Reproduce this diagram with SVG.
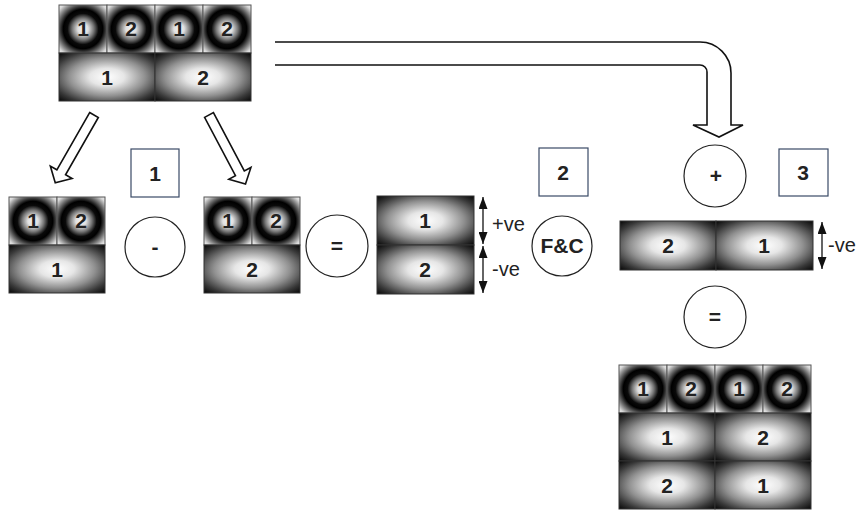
<svg xmlns="http://www.w3.org/2000/svg" xmlns:xlink="http://www.w3.org/1999/xlink" width="858" height="510" viewBox="0 0 858 510">
<style>
.num{font-family:"Liberation Sans",Arial,sans-serif;font-weight:bold;font-size:21px;fill:#222;text-anchor:middle}
.lbl{font-family:"Liberation Sans",Arial,sans-serif;font-size:20px;fill:#222}
.ring{fill:url(#ringG);stroke:#555;stroke-width:1}
.glow{fill:url(#glowG);stroke:#333;stroke-width:1}
.op{fill:#fff;stroke:#222;stroke-width:1.2}
.box{fill:#fff;stroke:#3a4a66;stroke-width:1.2}
.barrow{fill:#fff;stroke:#111;stroke-width:1.6;stroke-linejoin:miter}
.dim{stroke:#111;stroke-width:1.3;fill:none;marker-start:url(#tri);marker-end:url(#tri)}
</style>
<defs>
<radialGradient id="ringG" cx="0.5" cy="0.5" r="0.72">
<stop offset="0" stop-color="#f4f4f4"/>
<stop offset="0.15" stop-color="#e0e0e0"/>
<stop offset="0.31" stop-color="#777"/>
<stop offset="0.45" stop-color="#0a0a0a"/>
<stop offset="0.57" stop-color="#000"/>
<stop offset="0.72" stop-color="#666"/>
<stop offset="0.88" stop-color="#d6d6d6"/>
<stop offset="1" stop-color="#fafafa"/>
</radialGradient>
<radialGradient id="glowG" cx="0.5" cy="0.5" r="0.72">
<stop offset="0" stop-color="#fff"/>
<stop offset="0.25" stop-color="#e6e6e6"/>
<stop offset="0.55" stop-color="#909090"/>
<stop offset="0.8" stop-color="#383838"/>
<stop offset="1" stop-color="#000"/>
</radialGradient>
<marker id="tri" viewBox="0 0 10 10" refX="10" refY="5" markerWidth="12" markerHeight="9" markerUnits="userSpaceOnUse" orient="auto-start-reverse" preserveAspectRatio="none">
<path d="M0,0 L10,5 L0,10 Z" fill="#111"/>
</marker>
<path id="diagArrow" d="M-5,0 L5,0 L5,66 L12.5,66 L0,78 L-12.5,66 L-5,66 Z"/>
</defs>

<g id="block-top">
<rect class="ring" x="59" y="5" width="48" height="48"/>
<rect class="ring" x="107" y="5" width="48" height="48"/>
<rect class="ring" x="155" y="5" width="48" height="48"/>
<rect class="ring" x="203" y="5" width="48" height="48"/>
<rect class="glow" x="59" y="53" width="96" height="48"/>
<rect class="glow" x="155" y="53" width="96" height="48"/>
<text class="num" x="83" y="36">1</text>
<text class="num" x="131" y="36">2</text>
<text class="num" x="179" y="36">1</text>
<text class="num" x="227" y="36">2</text>
<text class="num" x="107" y="85">1</text>
<text class="num" x="203" y="85">2</text>
</g>

<g id="block-a">
<rect class="ring" x="9" y="197" width="48" height="48"/>
<rect class="ring" x="57" y="197" width="48" height="48"/>
<rect class="glow" x="9" y="245" width="96" height="48"/>
<text class="num" x="33" y="228">1</text>
<text class="num" x="81" y="228">2</text>
<text class="num" x="57" y="277">1</text>
</g>

<g id="block-b">
<rect class="ring" x="204" y="197" width="48" height="48"/>
<rect class="ring" x="252" y="197" width="48" height="48"/>
<rect class="glow" x="204" y="245" width="96" height="48"/>
<text class="num" x="228" y="228">1</text>
<text class="num" x="276" y="228">2</text>
<text class="num" x="252" y="277">2</text>
</g>

<g id="block-diff">
<rect class="glow" x="377" y="196" width="97" height="49"/>
<rect class="glow" x="377" y="245" width="97" height="49"/>
<text class="num" x="425" y="228">1</text>
<text class="num" x="425" y="277">2</text>
</g>

<g id="block-sum">
<rect class="glow" x="620" y="221" width="96" height="49"/>
<rect class="glow" x="716" y="221" width="97" height="49"/>
<text class="num" x="668" y="253">2</text>
<text class="num" x="764" y="253">1</text>
</g>

<g id="block-result">
<rect class="ring" x="619" y="365" width="48" height="48"/>
<rect class="ring" x="667" y="365" width="48" height="48"/>
<rect class="ring" x="715" y="365" width="48" height="48"/>
<rect class="ring" x="763" y="365" width="48" height="48"/>
<rect class="glow" x="619" y="413" width="96" height="48"/>
<rect class="glow" x="715" y="413" width="96" height="48"/>
<rect class="glow" x="619" y="461" width="96" height="48"/>
<rect class="glow" x="715" y="461" width="96" height="48"/>
<text class="num" x="643" y="396">1</text>
<text class="num" x="691" y="396">2</text>
<text class="num" x="739" y="396">1</text>
<text class="num" x="787" y="396">2</text>
<text class="num" x="667" y="445">1</text>
<text class="num" x="763" y="445">2</text>
<text class="num" x="667" y="493">2</text>
<text class="num" x="763" y="493">1</text>
</g>

<g id="op-minus"><circle class="op" cx="155" cy="247" r="30"/><text class="num" x="155" y="254">-</text></g>
<g id="op-equals1"><circle class="op" cx="337" cy="246" r="31"/><text class="num" x="337" y="253">=</text></g>
<g id="op-fc"><circle class="op" cx="562" cy="246" r="30"/><text class="num" x="562" y="253">F&amp;C</text></g>
<g id="op-plus"><circle class="op" cx="715" cy="176" r="31"/><text class="num" x="716" y="183">+</text></g>
<g id="op-equals2"><circle class="op" cx="715" cy="317" r="31"/><text class="num" x="715" y="324">=</text></g>

<g id="step-1"><rect class="box" x="131" y="149" width="48" height="48"/><text class="num" x="155" y="181">1</text></g>
<g id="step-2"><rect class="box" x="539" y="148" width="49" height="48"/><text class="num" x="563" y="180">2</text></g>
<g id="step-3"><rect class="box" x="779" y="149" width="49" height="47"/><text class="num" x="803" y="180">3</text></g>

<g id="connectors">
<use xlink:href="#diagArrow" class="barrow" transform="translate(94,115) rotate(29.8)"/>
<use xlink:href="#diagArrow" class="barrow" transform="translate(209,115) rotate(-27.9)"/>
<path class="barrow" style="fill:none" d="M275,42 L700,42 A31,31 0 0 1 731,73 L731,125 L743,125 L719,137 L693,125 L707,125 L707,72 A7,7 0 0 0 700,65 L275,65"/>
<line class="dim" x1="483" y1="197" x2="483" y2="244"/>
<line class="dim" x1="483" y1="246" x2="483" y2="293"/>
<line class="dim" x1="822" y1="222" x2="822" y2="269"/>
<text class="lbl" x="492" y="231">+ve</text>
<text class="lbl" x="492" y="276">-ve</text>
<text class="lbl" x="828" y="252">-ve</text>
</g>
</svg>
